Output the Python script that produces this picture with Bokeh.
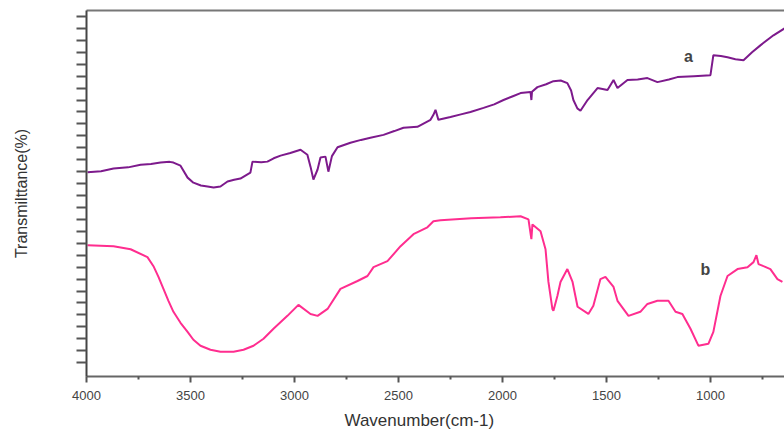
from bokeh.plotting import figure
from bokeh.models import Range1d, FixedTicker, LinearAxis, Label, Title, ColumnDataSource
from bokeh.embed import file_html
from bokeh.resources import INLINE

# Spectrum a (purple)
wn_a = [3995, 3930, 3870, 3800, 3740, 3690, 3644, 3600, 3582, 3548, 3514, 3486, 3450, 3418, 3389,
        3356, 3322, 3290, 3260, 3212, 3202, 3160, 3130, 3100, 3067, 3020, 2971, 2938, 2923, 2909,
        2889, 2875, 2851, 2837, 2820, 2793, 2731, 2680, 2635, 2572, 2520, 2476, 2409, 2346, 2332,
        2322, 2308, 2250, 2200, 2154, 2091, 2040, 1995, 1950, 1913, 1865, 1861, 1858, 1832, 1790,
        1755, 1720, 1688, 1670, 1659, 1640, 1625, 1591, 1543, 1495, 1466, 1447, 1399, 1350, 1303,
        1255, 1200, 1159, 1080, 1000, 986, 950, 918, 880, 841, 800, 760, 697, 644]
tr_a = [79.7, 80.2, 81.3, 81.8, 82.9, 83.2, 83.8, 84.1, 83.8, 82.5, 77.5, 75.4, 74.2, 73.8, 73.4,
        73.8, 75.9, 76.6, 77.1, 79.6, 84.2, 83.9, 84.2, 85.6, 86.7, 87.8, 89.2, 87.1, 82.1, 76.7,
        80.9, 85.9, 86.3, 80.0, 86.5, 90.2, 92.1, 93.3, 94.2, 95.4, 97.0, 98.4, 98.8, 101.7, 103.8,
        105.9, 101.7, 102.9, 104.0, 105.0, 106.7, 108.2, 110.0, 111.6, 112.9, 113.4, 110.0, 113.5, 115.4, 116.6,
        117.9, 118.2, 117.1, 114.0, 110.0, 106.5, 105.5, 110.0, 115.0, 114.2, 118.4, 115.0, 118.4, 118.6, 119.2,
        117.5, 118.6, 119.6, 120.0, 120.4, 128.8, 128.4, 127.9, 127.1, 126.7, 130.0, 132.9, 137.1, 140.0]

# Spectrum b (pink)
wn_b = [3995, 3870, 3788, 3707, 3678, 3654, 3630, 3606, 3582, 3548, 3514, 3486, 3452, 3404, 3356,
        3293, 3245, 3197, 3149, 3101, 3034, 2981,
        2923, 2889, 2841, 2779, 2697, 2649, 2620, 2553, 2490, 2428, 2361, 2332, 2298, 2150, 2010,
        1913, 1875, 1861, 1856, 1817, 1793, 1779, 1760, 1755, 1736, 1721, 1688, 1663, 1639, 1587,
        1563, 1529, 1505, 1466, 1447, 1394, 1337, 1303, 1255, 1202, 1168, 1135, 1096, 1058, 1010,
        986, 952, 918, 870, 822, 793, 779, 769, 745, 712, 678, 654]
tr_b = [49.2, 48.8, 47.5, 44.2, 40.4, 35.9, 30.9, 25.9, 21.3, 16.7, 12.9, 9.6, 7.1, 5.4, 4.6,
        4.6, 5.4, 7.1, 10.0, 14.2, 19.6, 24.2,
        20.4, 19.6, 22.5, 30.9, 34.2, 36.3, 40.0, 42.5, 48.8, 53.8, 56.7, 59.2, 59.6, 60.5, 60.9,
        61.3, 60.0, 51.7, 57.9, 55.0, 47.5, 33.8, 22.5, 21.7, 27.9, 33.8, 39.2, 33.8, 23.4, 20.4,
        23.8, 35.0, 35.9, 31.7, 25.9, 19.6, 21.3, 24.6, 25.9, 25.9, 21.3, 20.4, 14.2, 7.1, 7.9,
        12.9, 27.9, 36.3, 39.2, 40.0, 42.1, 45.0, 41.3, 40.4, 39.2, 35.0, 33.8]

x_major = [4000, 3500, 3000, 2500, 2000, 1500, 1000]
x_minor = [3750, 3250, 2750, 2250, 1750, 1250, 750]
y_ticks = [0, 5, 10, 15, 20, 25, 30, 35, 40, 45, 50, 55, 60, 65, 70, 75, 80, 85, 90, 95,
           100, 105, 110, 115, 120, 125, 130, 135, 140, 145]

p = figure(width=784, height=435, x_range=Range1d(4000, 644), y_range=Range1d(-5.8, 147.5),
           output_backend="svg", toolbar_location=None,
           min_border_left=86, min_border_right=0, min_border_top=10, min_border_bottom=57)
p.outline_line_color = None
p.xgrid.visible = False
p.ygrid.visible = False
p.background_fill_color = "white"
p.border_fill_color = "white"

p.line(x="wn", y="tr", source=ColumnDataSource(dict(wn=wn_a, tr=tr_a)),
       line_color="#7d1a8c", line_width=2)
p.line(x="wn", y="tr", source=ColumnDataSource(dict(wn=wn_b, tr=tr_b)),
       line_color="#ff2d8f", line_width=2)

xa = p.xaxis[0]
xa.ticker = FixedTicker(ticks=x_major, minor_ticks=x_minor)
xa.axis_line_color = "#666666"
xa.axis_line_width = 2
xa.major_tick_line_color = "#555555"
xa.major_tick_line_width = 2
xa.major_tick_out = 6
xa.major_tick_in = 0
xa.minor_tick_line_color = "#555555"
xa.minor_tick_line_width = 2
xa.minor_tick_out = 3
xa.minor_tick_in = 0
xa.major_label_standoff = 8
xa.major_label_text_font = "Liberation Sans"
xa.major_label_text_font_size = "13px"
xa.major_label_text_color = "#444444"

ya = p.yaxis[0]
ya.ticker = FixedTicker(ticks=[], minor_ticks=y_ticks)
ya.axis_line_color = "#444444"
ya.axis_line_width = 2
ya.minor_tick_line_color = "#555555"
ya.minor_tick_line_width = 2
ya.minor_tick_out = 10
ya.minor_tick_in = 0
ya.major_tick_out = 0
ya.major_label_standoff = 0
ya.axis_label = "Transmilttance(%)"
ya.axis_label_standoff = 47
ya.axis_label_text_font = "Liberation Sans"
ya.axis_label_text_font_size = "16px"
ya.axis_label_text_font_style = "normal"
ya.axis_label_text_color = "#333333"

top = LinearAxis(ticker=FixedTicker(ticks=[]), axis_line_color="#777777", axis_line_width=2,
                 major_tick_out=0, major_label_standoff=0)
p.add_layout(top, "above")

p.add_layout(Title(text="Wavenumber(cm-1)", align="left", offset=258,
                   text_font="Liberation Sans", text_font_size="17px", text_font_style="normal",
                   text_color="#333333", standoff=12), "below")

p.add_layout(Label(x=1106, y=128.4, text="a", text_align="center", text_baseline="middle",
                   text_font="Liberation Sans", text_font_size="16px", text_font_style="bold",
                   text_color="#444444"))
p.add_layout(Label(x=1024, y=39.2, text="b", text_align="center", text_baseline="middle",
                   text_font="Liberation Sans", text_font_size="16px", text_font_style="bold",
                   text_color="#444444"))

open("out.html", "w").write(file_html(p, INLINE))
